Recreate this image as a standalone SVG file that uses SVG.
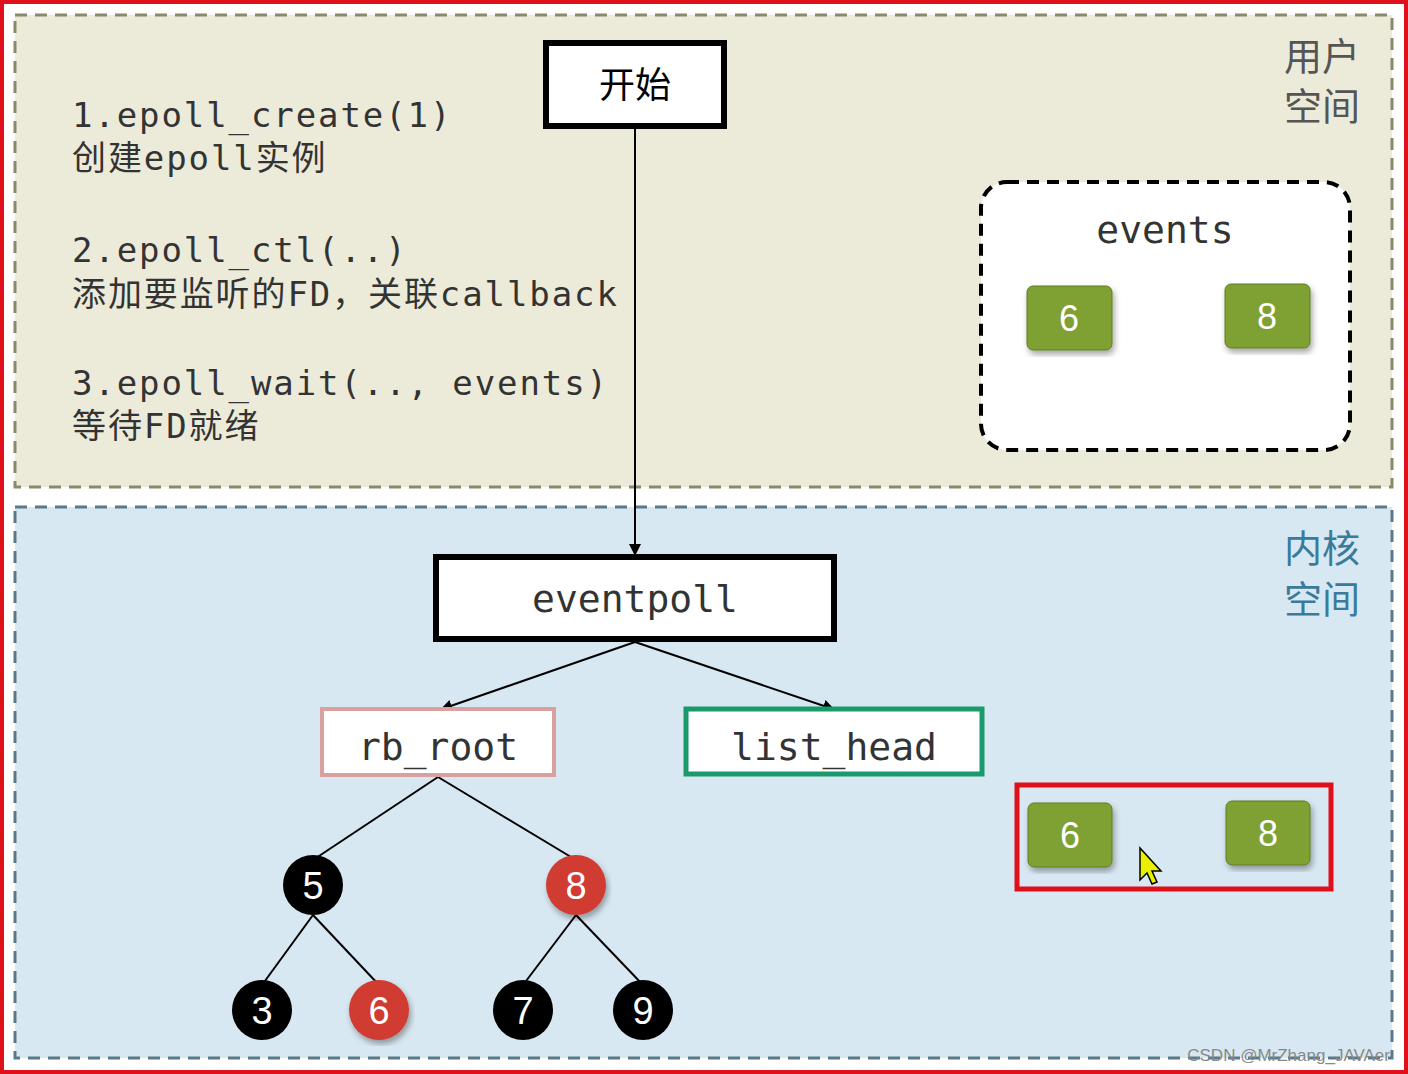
<svg xmlns="http://www.w3.org/2000/svg" width="1408" height="1074" viewBox="0 0 1408 1074">
<style>
.mono{font-family:"DejaVu Sans Mono","Liberation Mono","Noto Sans CJK SC",monospace;fill:#333}
.box{fill:#fff;stroke:#000;stroke-width:6}
.ln{stroke:#000;stroke-width:2;fill:none}
.g{fill:#7fa032;stroke:#5f7d22;stroke-width:1}
.gt{font-family:"Liberation Sans",sans-serif;font-size:36px;fill:#fff;text-anchor:middle}
.ct{font-family:"Liberation Sans",sans-serif;font-size:38px;fill:#fff;text-anchor:middle}
.lbl{font-family:"Noto Sans CJK SC",sans-serif;font-size:38px}
</style>
<defs>
<marker id="ah" markerWidth="12" markerHeight="12" refX="10" refY="6" orient="auto" markerUnits="userSpaceOnUse"><path d="M0,0 L12,6 L0,12z" fill="#000"/></marker>
<filter id="sh"><feDropShadow dx="2" dy="4" stdDeviation="3" flood-opacity="0.35"/></filter>
</defs>
<rect x="0" y="0" width="1408" height="1074" fill="#fff"/>
<rect x="15" y="15" width="1377" height="472" fill="#ecebd9" stroke="#8a8a6a" stroke-width="3" stroke-dasharray="12,8"/>
<rect x="15" y="507" width="1377" height="551" fill="#d8e8f2" stroke="#5a7a8a" stroke-width="3" stroke-dasharray="12,8"/>
<rect x="2" y="2" width="1404" height="1070" fill="none" stroke="#e0101a" stroke-width="4"/>
<g id="labels">
<text class="lbl" x="1322" y="70" fill="#555" text-anchor="middle">用户</text>
<text class="lbl" x="1322" y="120" fill="#555" text-anchor="middle">空间</text>
<text class="lbl" x="1322" y="562" fill="#3a7a9a" text-anchor="middle">内核</text>
<text class="lbl" x="1322" y="613" fill="#3a7a9a" text-anchor="middle">空间</text>
<g class="mono" font-size="34" letter-spacing="1.9">
<text x="72" y="127">1.epoll_create(1)</text>
<text x="72" y="170">创建epoll实例</text>
<text x="72" y="262">2.epoll_ctl(..)</text>
<text x="72" y="306">添加要监听的FD，关联callback</text>
<text x="72" y="395">3.epoll_wait(.., events)</text>
<text x="72" y="438">等待FD就绪</text>
</g>
</g>
<g id="connectors">
<line class="ln" x1="635" y1="127" x2="635" y2="554" marker-end="url(#ah)"/>
<line class="ln" x1="635" y1="642" x2="442" y2="709" marker-end="url(#ah)"/>
<line class="ln" x1="635" y1="642" x2="833" y2="709" marker-end="url(#ah)"/>
<line class="ln" x1="438" y1="777" x2="313" y2="860"/>
<line class="ln" x1="438" y1="777" x2="576" y2="860"/>
<line class="ln" x1="313" y1="915" x2="262" y2="985"/>
<line class="ln" x1="313" y1="915" x2="379" y2="985"/>
<line class="ln" x1="576" y1="915" x2="523" y2="985"/>
<line class="ln" x1="576" y1="915" x2="643" y2="985"/>
</g>
<g id="start"><rect class="box" x="546" y="43" width="178" height="83"/><text x="635" y="98" text-anchor="middle" font-family="Noto Sans CJK SC,sans-serif" font-size="36">开始</text></g>
<g id="eventpoll"><rect class="box" x="436" y="557" width="398" height="82"/><text class="mono" x="635" y="612" text-anchor="middle" font-size="38" fill="#000">eventpoll</text></g>
<g id="rb_root"><rect x="322" y="709" width="232" height="66" fill="#fff" stroke="#d9a0a0" stroke-width="4"/><text class="mono" x="438" y="760" text-anchor="middle" font-size="38" fill="#000">rb_root</text></g>
<g id="list_head"><rect x="686" y="709" width="296" height="65" fill="#fff" stroke="#1a9a6a" stroke-width="5"/><text class="mono" x="834" y="760" text-anchor="middle" font-size="38" fill="#000">list_head</text></g>
<g id="n5"><circle cx="313" cy="885" r="30" fill="#000"/><text class="ct" x="313" y="899">5</text></g>
<g id="n8"><circle cx="576" cy="885" r="30" fill="#d03a30" filter="url(#sh)"/><text class="ct" x="576" y="899">8</text></g>
<g id="n3"><circle cx="262" cy="1010" r="30" fill="#000"/><text class="ct" x="262" y="1024">3</text></g>
<g id="n6"><circle cx="379" cy="1010" r="30" fill="#d03a30" filter="url(#sh)"/><text class="ct" x="379" y="1024">6</text></g>
<g id="n7"><circle cx="523" cy="1010" r="30" fill="#000"/><text class="ct" x="523" y="1024">7</text></g>
<g id="n9"><circle cx="643" cy="1010" r="30" fill="#000"/><text class="ct" x="643" y="1024">9</text></g>
<g id="events"><rect x="981" y="182" width="369" height="268" rx="26" fill="#fff" stroke="#000" stroke-width="4" stroke-dasharray="12,8"/>
<text class="mono" x="1165" y="243" text-anchor="middle" font-size="38" fill="#000">events</text>
<rect class="g" x="1027" y="286" width="85" height="64" rx="6" filter="url(#sh)"/><text class="gt" x="1069" y="331">6</text>
<rect class="g" x="1225" y="284" width="85" height="64" rx="6" filter="url(#sh)"/><text class="gt" x="1267" y="329">8</text></g>
<g id="ready"><rect x="1017" y="785" width="314" height="104" fill="none" stroke="#e0101a" stroke-width="5"/>
<rect class="g" x="1028" y="803" width="84" height="64" rx="6" filter="url(#sh)"/><text class="gt" x="1070" y="848">6</text>
<rect class="g" x="1226" y="801" width="84" height="64" rx="6" filter="url(#sh)"/><text class="gt" x="1268" y="846">8</text>
<path d="M1140,848 L1140,880 L1147,873 L1152,884 L1157,882 L1152,871 L1161,871 Z" fill="#e8f000" stroke="#000" stroke-width="1.5"/></g>
<text x="1390" y="1061" text-anchor="end" font-family="Liberation Sans,sans-serif" font-size="17" fill="#888">CSDN @MrZhang_JAVAer</text>
</svg>
